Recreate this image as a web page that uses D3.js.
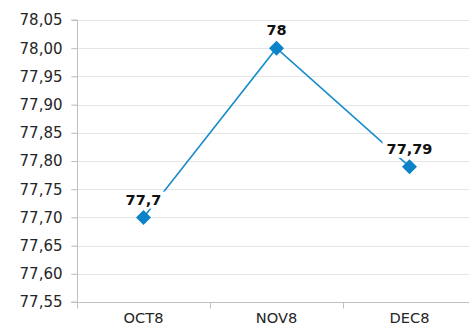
<!DOCTYPE html>
<html>
<head>
<meta charset="utf-8">
<script src="https://cdn.jsdelivr.net/npm/d3@7"></script>
<style>
  html, body { margin: 0; padding: 0; background: #fff; overflow: hidden; }
  svg { display: block; }
</style>
</head>
<body>
<svg id="chart" width="469" height="325"></svg>
<script>
// Monthly values
const categories = ["OCT8", "NOV8", "DEC8"];
const values = [77.7, 78.0, 77.79];
const valueLabels = ["77,7", "78", "77,79"];
const yTicks = [77.55, 77.60, 77.65, 77.70, 77.75, 77.80, 77.85, 77.90, 77.95, 78.00, 78.05];

const svg = d3.select("#chart");
const plotLeft = 77, plotRight = 476, plotTop = 20, plotBottom = 302;
const font = "Verdana, 'DejaVu Sans', sans-serif";

const x = d3.scaleBand().domain(categories).range([plotLeft, plotRight]);
const y = d3.scaleLinear().domain([77.55, 78.05]).range([plotBottom, plotTop]);
const fmt = v => d3.format(".2f")(v).replace(".", ",");

// horizontal gridlines with short outer ticks
svg.append("g").selectAll("line").data(yTicks.slice(1)).join("line")
  .attr("x1", plotLeft - 6).attr("x2", plotRight)
  .attr("y1", d => Math.round(y(d)) + 0.5).attr("y2", d => Math.round(y(d)) + 0.5)
  .attr("stroke", "#e6e6e6").attr("stroke-width", 1);

// y axis
const yAxis = svg.append("g").attr("transform", `translate(${plotLeft + 0.5},0)`)
  .call(d3.axisLeft(y).tickValues(yTicks).tickFormat(fmt).tickSize(6).tickPadding(9));
yAxis.select(".domain").attr("stroke", "#c0c0c0").attr("d", `M-6,${y(77.55)}H0V${plotTop}H-6`);
yAxis.selectAll(".tick line").attr("stroke", "#c0c0c0");
yAxis.selectAll(".tick text")
  .attr("font-family", font)
  .attr("font-size", 15).attr("fill", "#262626");

// x axis with boundary ticks
const xAxis = svg.append("g").attr("transform", `translate(0,${plotBottom + 0.5})`);
xAxis.append("line").attr("x1", plotLeft - 6).attr("x2", plotRight).attr("stroke", "#c0c0c0");
const bounds = categories.map(c => x(c)).concat([plotRight]);
xAxis.selectAll("line.b").data(bounds).join("line").attr("class", "b")
  .attr("x1", d => Math.round(d) + 0.5).attr("x2", d => Math.round(d) + 0.5)
  .attr("y1", 0).attr("y2", 6).attr("stroke", "#c0c0c0");
xAxis.selectAll("text").data(categories).join("text")
  .attr("x", d => x(d) + x.bandwidth() / 2).attr("y", 20.5)
  .attr("text-anchor", "middle")
  .attr("font-family", font)
  .attr("font-size", 14.6).attr("fill", "#262626")
  .text(d => d);

const pts = values.map((v, i) => [x(categories[i]) + x.bandwidth() / 2, y(v)]);

// connecting line
svg.append("path").datum(pts)
  .attr("d", d3.line())
  .attr("fill", "none").attr("stroke", "#1a8ccc").attr("stroke-width", 1.6);

// value labels on white backing
const lab = svg.append("g").selectAll("g").data(values).join("g")
  .attr("transform", (d, i) => `translate(${pts[i][0]},${pts[i][1] - 18})`);
lab.append("text")
  .attr("text-anchor", "middle").attr("dy", "0.36em")
  .attr("font-family", font)
  .attr("font-weight", "bold").attr("font-size", 14.5).attr("fill", "#111")
  .text((d, i) => valueLabels[i]);
lab.each(function () {
  const g = d3.select(this);
  const b = g.select("text").node().getBBox();
  g.insert("rect", "text")
    .attr("x", b.x - 4).attr("y", b.y)
    .attr("width", b.width + 8).attr("height", b.height + 1)
    .attr("fill", "#fff");
});

// diamond markers
svg.append("g").selectAll("path").data(pts).join("path")
  .attr("transform", p => `translate(${p[0]},${p[1]}) rotate(45)`)
  .attr("d", "M-5.3,-5.3H5.3V5.3H-5.3Z")
  .attr("fill", "#0c82c8");
</script>
</body>
</html>
